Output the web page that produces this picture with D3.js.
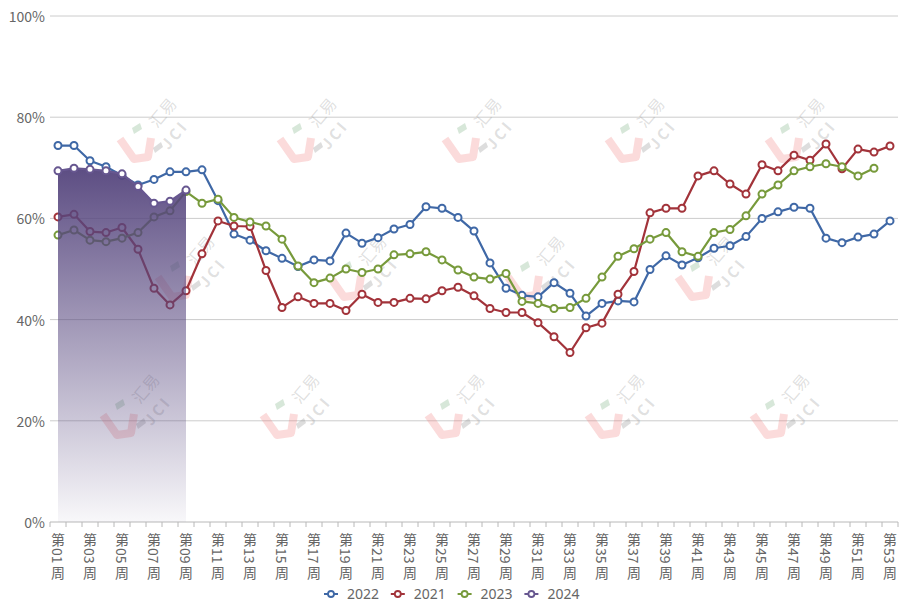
<!DOCTYPE html>
<html>
<head>
<meta charset="utf-8">
<script src="https://cdn.jsdelivr.net/npm/d3@7/dist/d3.min.js"></script>
<style>
  html, body { margin: 0; padding: 0; background: #fff; }
  svg { display: block; font-family: "Noto Sans CJK SC", "Noto Sans", sans-serif; }
</style>
</head>
<body>
<svg id="chart" width="912" height="605"></svg>
<script>
// ---- data ----
const weeks = d3.range(1, 54).map(i => "第" + String(i).padStart(2, "0") + "周");
const yTicks = [0, 20, 40, 60, 80, 100];
const seriesNames = ["2022", "2021", "2023", "2024"];
const seriesColors = ["#3f68a6", "#a2333a", "#779a3b", "#675790"];

const s2022 = [74.4, 74.4, 71.4, 70.2, 68.5, 66.6, 67.7, 69.2, 69.2, 69.6,
  63.5, 56.9, 55.7, 53.6, 52.1, 50.5, 51.8, 51.6, 57.1, 55.1,
  56.2, 57.9, 58.8, 62.3, 62.0, 60.2, 57.5, 51.2, 46.2, 44.8,
  44.5, 47.3, 45.2, 40.7, 43.2, 43.7, 43.5, 49.9, 52.6, 50.8,
  52.2, 54.1, 54.6, 56.4, 60.0, 61.3, 62.2, 62.0, 56.1, 55.2,
  56.3, 56.9, 59.5];
const s2021 = [60.3, 60.8, 57.4, 57.2, 58.2, 53.9, 46.2, 42.9, 45.7, 53.0,
  59.5, 58.5, 58.4, 49.7, 42.4, 44.5, 43.2, 43.2, 41.8, 45.0,
  43.4, 43.4, 44.2, 44.1, 45.7, 46.4, 44.7, 42.2, 41.4, 41.4,
  39.4, 36.6, 33.5, 38.4, 39.3, 45.0, 49.5, 61.1, 62.0, 62.0,
  68.4, 69.4, 66.8, 64.8, 70.6, 69.4, 72.5, 71.5, 74.7, 69.8,
  73.7, 73.1, 74.3];
const s2023 = [56.7, 57.7, 55.7, 55.4, 56.1, 57.2, 60.3, 61.5, 65.3, 63.0,
  63.8, 60.2, 59.3, 58.5, 55.9, 50.6, 47.3, 48.2, 50.0, 49.3,
  50.0, 52.8, 53.0, 53.4, 51.8, 49.8, 48.4, 48.0, 49.1, 43.6,
  43.2, 42.2, 42.4, 44.2, 48.4, 52.5, 54.0, 55.9, 57.2, 53.4,
  52.5, 57.2, 57.8, 60.5, 64.8, 66.6, 69.4, 70.2, 70.8, 70.2,
  68.4, 69.9];
const s2024 = [69.4, 69.9, 69.7, 69.4, 68.8, 66.3, 63.0, 63.4, 65.6];
const seriesValues = [s2022, s2021, s2023, s2024];

// watermark anchors (decoration)
const wmX = [[162, 322, 487, 650, 810], [200, 372, 550, 720], [145, 305, 470, 630, 795]];
const wmY = [112, 250, 388];

// ---- layout ----
const svg = d3.select("#chart");
const plotL = 50, plotR = 898, plotT = 16, plotB = 522;
const x = d3.scaleBand().domain(weeks).range([plotL, plotR]).padding(0);
const cx = w => x(w) + x.bandwidth() / 2;
const y = d3.scaleLinear().domain([0, 100]).range([plotB, plotT]);

// grid
svg.append("g").selectAll("line").data(yTicks.filter(t => t > 0)).join("line")
  .attr("x1", plotL).attr("x2", plotR)
  .attr("y1", d => y(d)).attr("y2", d => y(d))
  .attr("stroke", "#cccccc").attr("stroke-width", 1);

// y labels
svg.append("g").selectAll("text").data(yTicks).join("text")
  .attr("x", 45).attr("y", d => y(d))
  .attr("text-anchor", "end").attr("dominant-baseline", "central")
  .attr("font-size", 14).attr("fill", "#666")
  .text(d => d + "%");

// watermarks
const wm = svg.append("g");
wmY.forEach((yy, r) => {
  wmX[r].forEach(xx => {
    const g = wm.append("g").attr("transform", `translate(${xx},${yy})`);
    g.append("path").attr("d", "M-42,27 L-28,47 L-14,45 L-11,26")
      .attr("fill", "none").attr("stroke", "rgba(240,110,110,0.25)")
      .attr("stroke-width", 8).attr("stroke-linejoin", "round");
    g.append("path").attr("d", "M-30,16 L-22,11 L-20,17 L-28,22 Z")
      .attr("fill", "rgba(110,170,120,0.28)");
    g.append("path").attr("d", "M-9,36 L-1,30 L1,35 L-7,41 Z")
      .attr("fill", "rgba(150,150,150,0.32)");
    g.append("text").attr("transform", "rotate(-50)")
      .attr("text-anchor", "middle").attr("dominant-baseline", "central")
      .attr("font-size", 16).attr("fill", "rgba(150,150,150,0.3)").text("汇易");
    g.append("text").attr("transform", "translate(12,22) rotate(-50)")
      .attr("text-anchor", "middle").attr("dominant-baseline", "central")
      .attr("font-size", 15).attr("font-weight", "bold")
      .attr("letter-spacing", 3)
      .attr("fill", "rgba(150,150,150,0.3)").text("JCI");
  });
});

// x axis line + ticks
svg.append("line").attr("x1", plotL).attr("x2", plotR)
  .attr("y1", plotB).attr("y2", plotB).attr("stroke", "#b8b8b8").attr("stroke-width", 1);
svg.append("g").selectAll("line").data(d3.range(weeks.length + 1)).join("line")
  .attr("x1", i => plotL + i * x.bandwidth())
  .attr("x2", i => plotL + i * x.bandwidth())
  .attr("y1", plotB).attr("y2", plotB + 5)
  .attr("stroke", "#b8b8b8");

// x labels (vertical: CJK upright, digits rotated)
const lab = svg.append("g").selectAll("g").data(weeks.filter((d, i) => i % 2 === 0)).join("g")
  .attr("transform", d => `translate(${cx(d)},0)`)
  .attr("font-size", 14).attr("fill", "#666");
lab.append("text").attr("x", 0).attr("y", 545).attr("text-anchor", "middle").text(d => d[0]);
lab.append("text").attr("transform", "translate(0,548) rotate(90)")
  .attr("dominant-baseline", "central").text(d => d.slice(1, 3));
lab.append("text").attr("x", 0).attr("y", 578).attr("text-anchor", "middle").text(d => d[3]);

// area gradient for 2024
const defs = svg.append("defs");
const grad = defs.append("linearGradient").attr("id", "g24")
  .attr("gradientUnits", "userSpaceOnUse")
  .attr("x1", 0).attr("x2", 0).attr("y1", y(d3.max(s2024))).attr("y2", plotB);
grad.append("stop").attr("offset", 0).attr("stop-color", "rgb(86,70,126)").attr("stop-opacity", 0.96);
grad.append("stop").attr("offset", 1).attr("stop-color", "rgb(86,70,126)").attr("stop-opacity", 0.04);

const line = d3.line().x(d => cx(d.w)).y(d => y(d.v));
const area = d3.area().x(d => cx(d.w)).y0(plotB).y1(d => y(d.v));

const toPts = vals => vals.map((v, i) => ({ w: weeks[i], v }));

seriesValues.forEach((vals, si) => {
  const pts = toPts(vals);
  const g = svg.append("g");
  if (si === 3) {
    g.append("path").datum(pts).attr("d", area).attr("fill", "url(#g24)");
  }
  g.append("path").datum(pts).attr("d", line)
    .attr("fill", "none").attr("stroke", seriesColors[si]).attr("stroke-width", 2.2)
    .attr("stroke-linejoin", "round");
  g.selectAll("circle").data(pts).join("circle")
    .attr("cx", d => cx(d.w)).attr("cy", d => y(d.v)).attr("r", 3.5)
    .attr("fill", "#fff").attr("stroke", seriesColors[si]).attr("stroke-width", 2);
});

// legend
const legend = svg.append("g").attr("font-size", 14).attr("fill", "#666")
  .attr("font-family", "'Noto Sans', 'Open Sans', sans-serif");
seriesNames.forEach((n, i) => {
  const x0 = 331 + i * 66.8;
  const g = legend.append("g").attr("transform", `translate(${x0},594)`);
  g.append("line").attr("x1", -7).attr("x2", 7).attr("y1", 0).attr("y2", 0)
    .attr("stroke", seriesColors[i]).attr("stroke-width", 2);
  g.append("circle").attr("r", 3).attr("fill", "#fff")
    .attr("stroke", seriesColors[i]).attr("stroke-width", 1.8);
  g.append("text").attr("x", 16).attr("y", 5).attr("fill", "#666").text(n);
});
</script>
</body>
</html>
